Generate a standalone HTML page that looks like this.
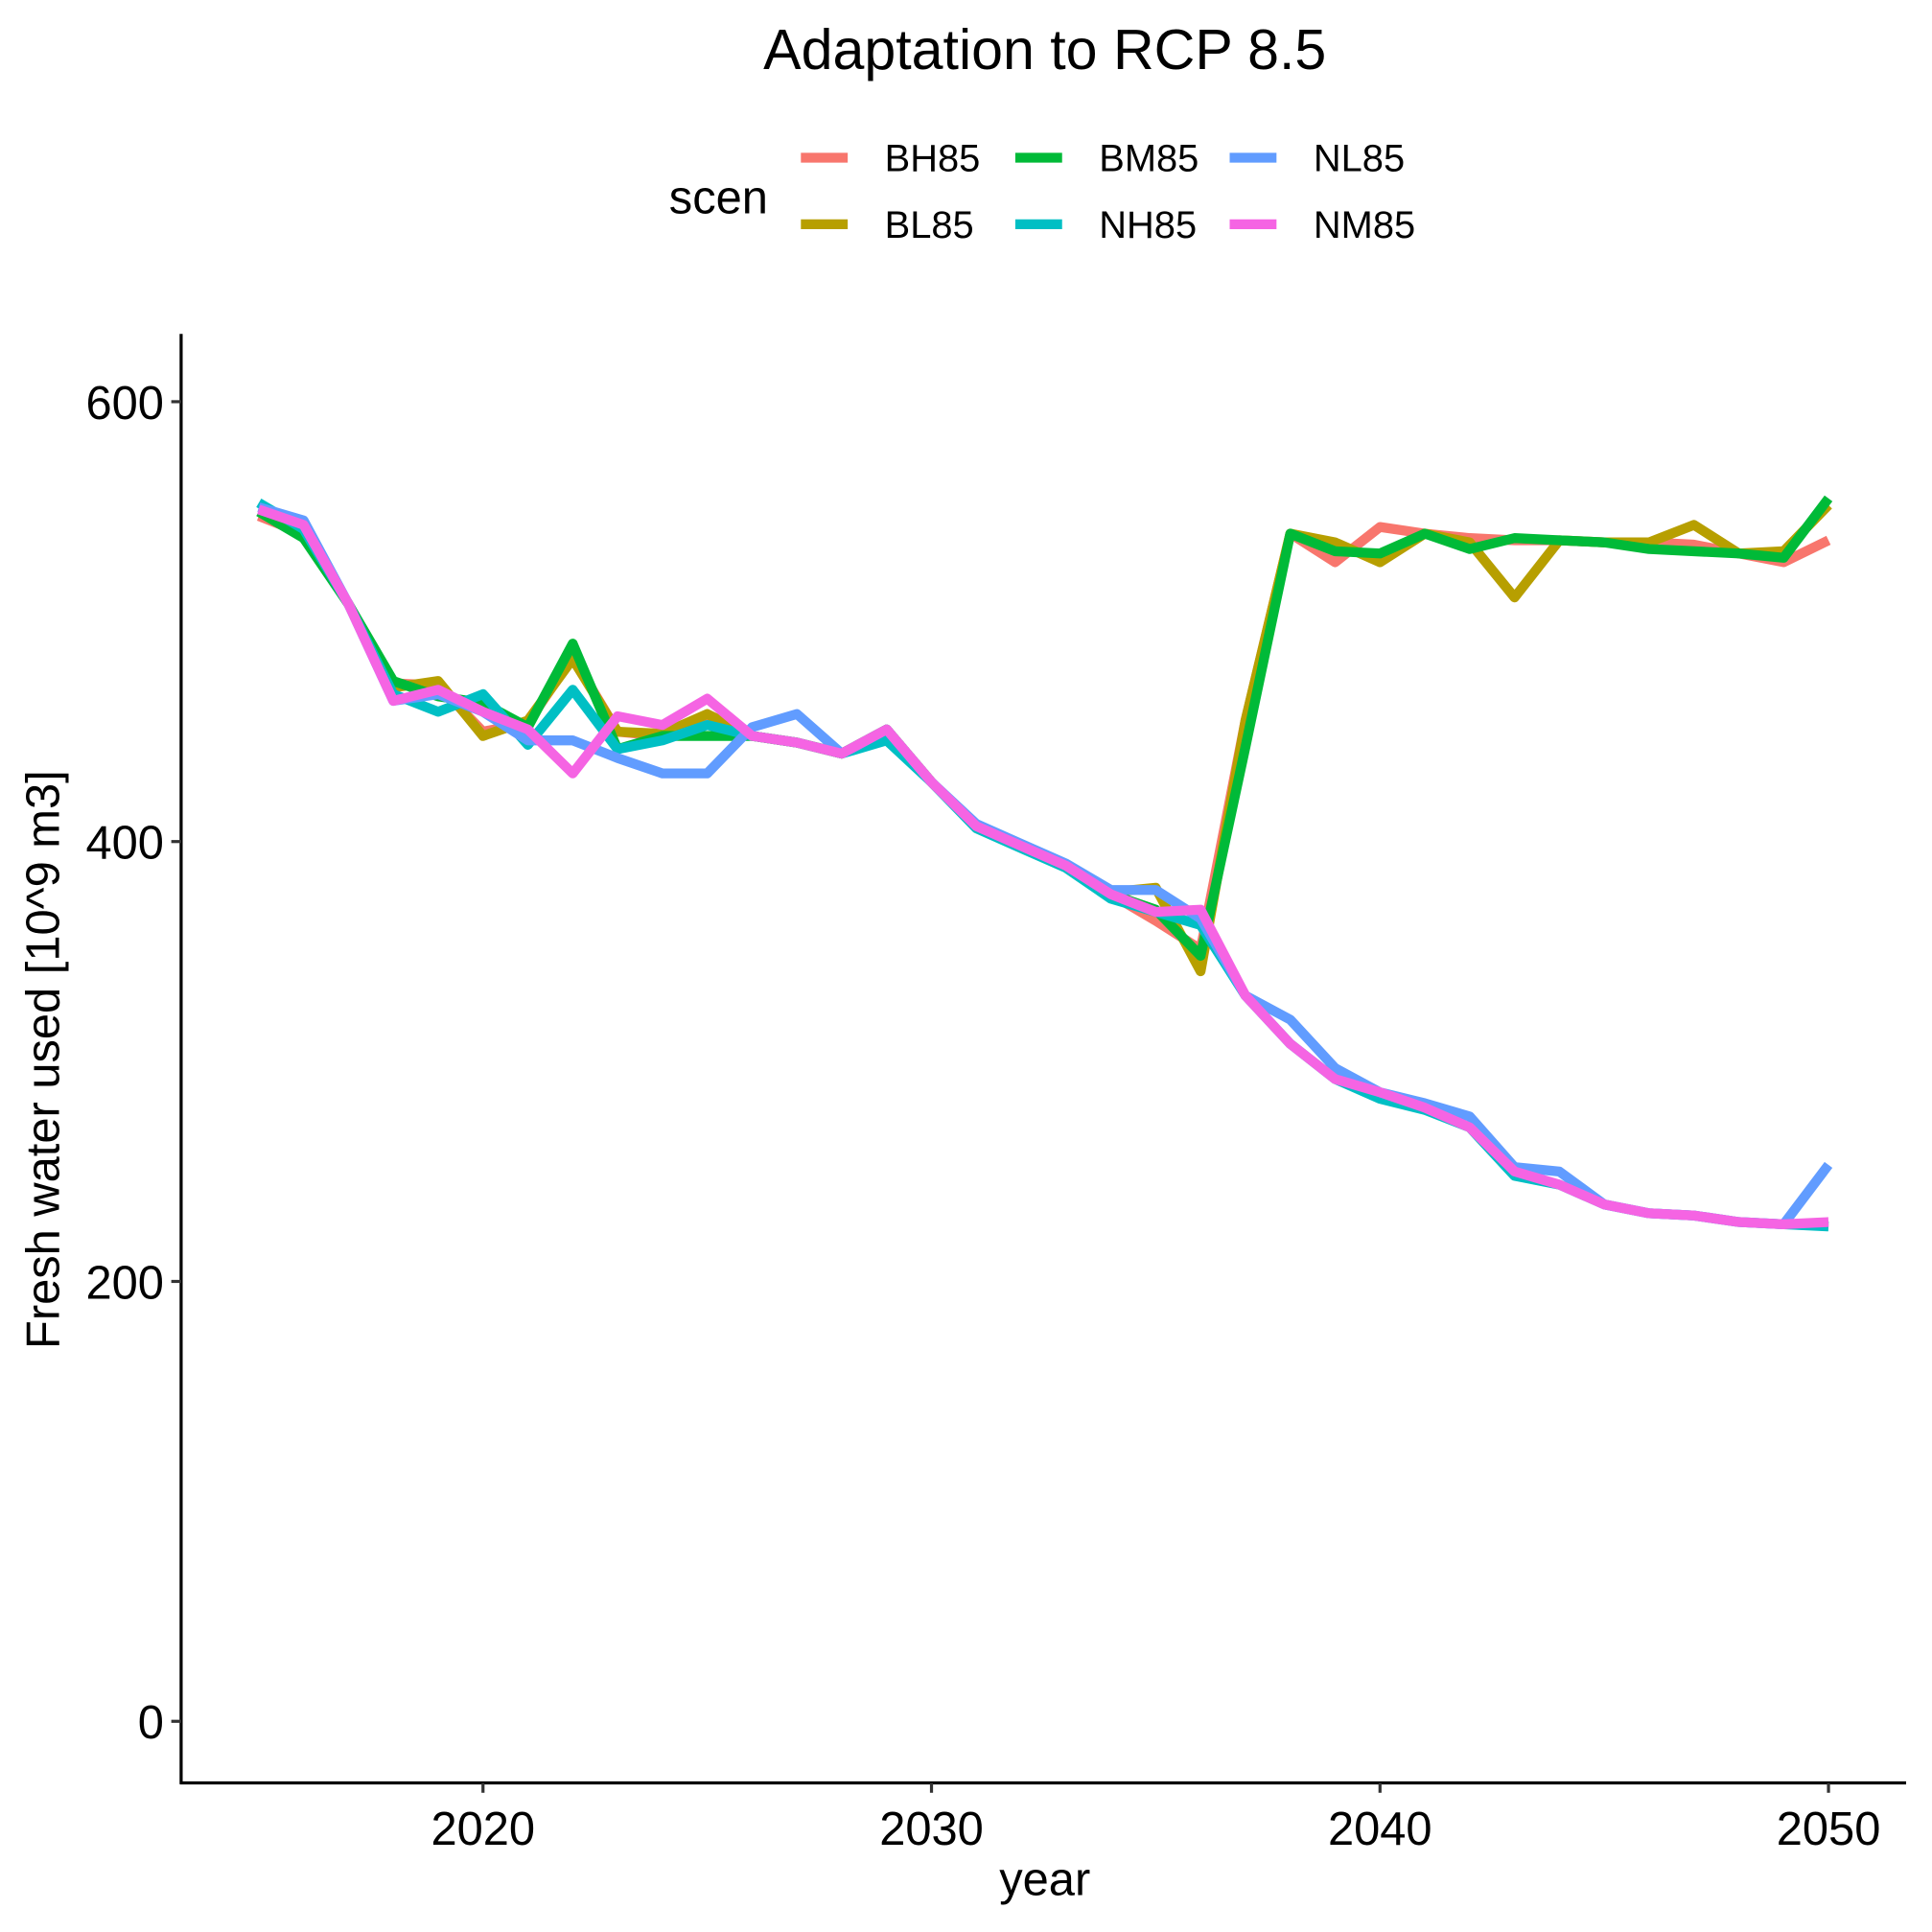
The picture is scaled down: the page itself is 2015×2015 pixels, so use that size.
<!DOCTYPE html>
<html><head><meta charset="utf-8"><style>
html,body{margin:0;padding:0;background:#fff}
svg{display:block;font-family:"Liberation Sans",Arial,sans-serif}
</style></head><body>
<svg id="chart" width="2015" height="2015" viewBox="0 0 1568 1568" xmlns="http://www.w3.org/2000/svg">
<rect width="1568" height="1568" fill="#fff"/>
<text x="848" y="56" font-size="46" text-anchor="middle">Adaptation to RCP 8.5</text>
<g id="legend">
<text x="543" y="173" font-size="38">scen</text>
</g>
<g id="axes"></g>
<g id="series"></g>
<text x="848" y="1538" font-size="38" text-anchor="middle">year</text>
<text transform="translate(48,860) rotate(-90)" font-size="38" text-anchor="middle">Fresh water used [10^9 m3]</text>
</svg>
<script>
const years = [2015,2016,2017,2018,2019,2020,2021,2022,2023,2024,2025,2026,2027,2028,2029,2030,2031,2032,2033,2034,2035,2036,2037,2038,2039,2040,2041,2042,2043,2044,2045,2046,2047,2048,2049,2050];
const seriesNames = ["BH85","BL85","BM85","NH85","NL85","NM85"];
const seriesColors = ["#F8766D","#B79F00","#00BA38","#00BFC4","#619CFF","#F564E3"];
const BH85 = [548,540,508,472,471,450,454,484,450,448,456,448,445,440,451,427,407,398,389,376,364,351,455,540,527,543,540,538,537,537,536,536,535,531,527,537];
const BL85 = [550,540,508,470,473,448,455,483,450,449,458,448,445,440,451,427,407,398,389,377,379,341,455,540,536,527,540,536,511,537,536,536,544,531,532,553];
const BM85 = [550,538,508,473,466,463,452,490,442,448,448,448,445,440,451,427,407,398,389,376,369,348,443,540,532,531,540,533,538,537,536,533,532,531,529,556];
const NH85 = [554,542,508,467,459,467,444,469,442,446,453,448,445,440,446,427,406,397,388,374,368,362,330,308,292,283,278,270,248,244,235,231,230,227,226,225];
const NL85 = [552,546,508,464,467,459,446,446,438,431,431,452,458,440,451,427,408,399,390,378,378,365,330,319,297,286,281,275,252,250,235,231,230,227,226,253];
const NM85 = [551,544,508,464,469,459,451,431,457,453,465,448,445,440,451,427,407,398,389,376,368,369,330,308,292,286,279,270,250,244,235,231,230,227,226,227];
const seriesValues = [BH85,BL85,BM85,NH85,NL85,NM85];
const yTicks = [0,200,400,600];
const xTicks = [2020,2030,2040,2050];

const NS = "http://www.w3.org/2000/svg";
const xScale = v => 392 + (v - 2020) * 36.4;
const yScale = v => 1397 - v * 357 / 200;
function mk(tag, attrs, parent) {
  const e = document.createElementNS(NS, tag);
  for (const k in attrs) e.setAttribute(k, attrs[k]);
  parent.appendChild(e);
  return e;
}
const axes = document.getElementById('axes');
const xl = mk('line', {x1:146, y1:1447, x2:1547, y2:1447, stroke:'#000', 'stroke-width':2.5}, axes);


const yl = mk('line', {x1:147, y1:271, x2:147, y2:1448, stroke:'#000', 'stroke-width':2.5}, axes);


yTicks.forEach(t => {
  const y = yScale(t);
  const tk = mk('line', {x1:139, y1:y, x2:147, y2:y, stroke:'#333', 'stroke-width':2.5}, axes);
  
  
  const lb = mk('text', {x:133, y:y + 14, 'font-size':38, 'text-anchor':'end', fill:'#000'}, axes);
  lb.textContent = t;
  
  
});
xTicks.forEach(t => {
  const x = xScale(t);
  const tk = mk('line', {x1:x, y1:1447, x2:x, y2:1455, stroke:'#333', 'stroke-width':2.5}, axes);
  
  
  const lb = mk('text', {x:x, y:1497, 'font-size':38, 'text-anchor':'middle', fill:'#000'}, axes);
  lb.textContent = t;
  
  
});
const sg = document.getElementById('series');
seriesValues.forEach((vals, i) => {
  const pts = vals.map((v, j) => xScale(years[j]).toFixed(1) + ',' + yScale(v).toFixed(1)).join(' ');
  const pl = mk('polyline', {points:pts, fill:'none', stroke:seriesColors[i], 'stroke-width':8, 'stroke-linejoin':'round'}, sg);
  
  
});
const lg = document.getElementById('legend');
seriesNames.forEach((n, i) => {
  const col = Math.floor(i / 2), row = i % 2;
  const x0 = 650 + col * 174, y0 = 128 + row * 54;
  const k = mk('line', {x1:x0, y1:y0, x2:x0 + 38, y2:y0, stroke:seriesColors[i], 'stroke-width':8}, lg);
  
  
  const t = mk('text', {x:x0 + 68, y:y0 + 11, 'font-size':31, fill:'#000'}, lg);
  t.textContent = n;
  
  
});
</script>
</body></html>
